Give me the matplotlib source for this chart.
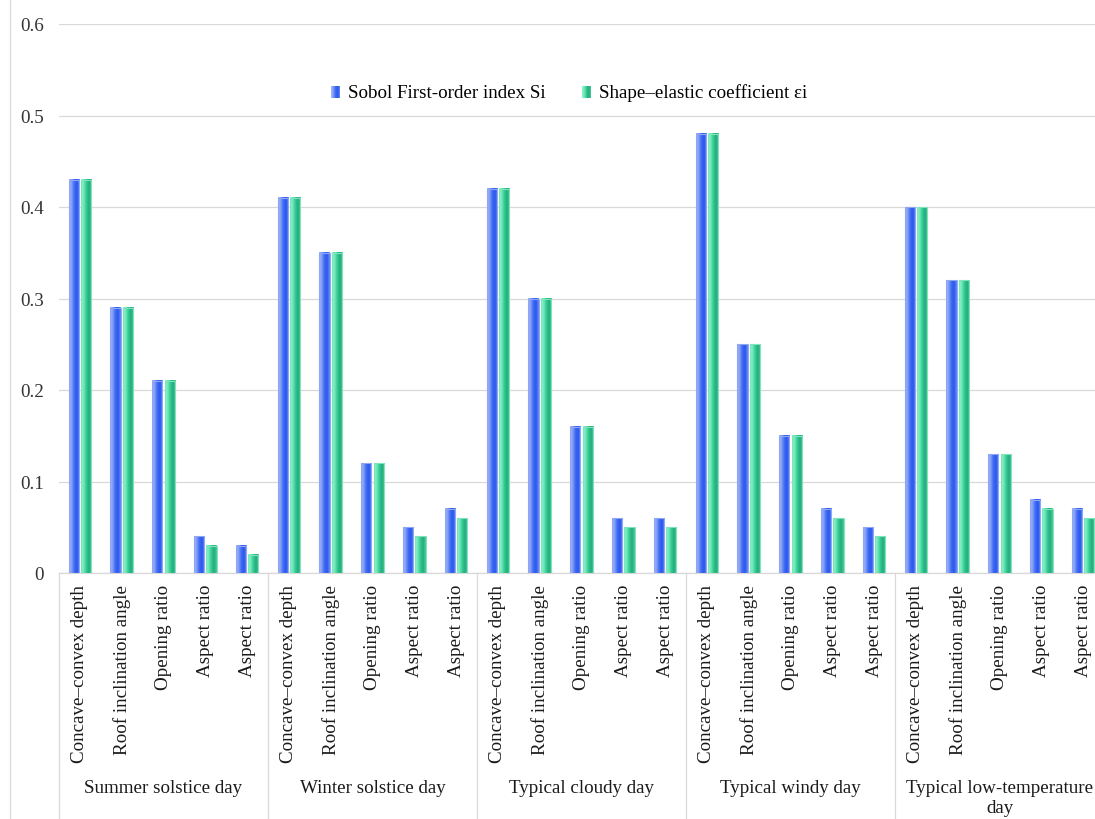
import matplotlib.pyplot as plt
import matplotlib.colors as mcolors
from matplotlib.patches import Rectangle
from matplotlib.lines import Line2D
from matplotlib.legend_handler import HandlerBase
from matplotlib.transforms import blended_transform_factory
import numpy as np

plt.rcParams['font.family'] = ['Liberation Serif', 'DejaVu Serif']

days = ['Summer solstice day', 'Winter solstice day', 'Typical cloudy day',
        'Typical windy day', 'Typical low-temperature\nday']
factors = ['Concave\u2013convex depth', 'Roof inclination angle', 'Opening ratio',
           'Aspect ratio', 'Aspect ratio']

# values per day, factors in the order above
sobol = [[0.43, 0.29, 0.21, 0.04, 0.03],
         [0.41, 0.35, 0.12, 0.05, 0.07],
         [0.42, 0.30, 0.16, 0.06, 0.06],
         [0.48, 0.25, 0.15, 0.07, 0.05],
         [0.40, 0.32, 0.13, 0.08, 0.07]]
elastic = [[0.43, 0.29, 0.21, 0.03, 0.02],
           [0.41, 0.35, 0.12, 0.04, 0.06],
           [0.42, 0.30, 0.16, 0.05, 0.05],
           [0.48, 0.25, 0.15, 0.06, 0.04],
           [0.40, 0.32, 0.13, 0.07, 0.06]]

series_names = ['Sobol First-order index Si', 'Shape\u2013elastic coefficient \u03b5i']

# gradient stops left -> right for each series
blue_stops = ['#a9bcf8', '#7f9cf6', '#3e68f2', '#2a58f0', '#6b8cf3']
green_stops = ['#93f5cf', '#6fe8b8', '#34c892', '#22ad7c', '#52c99c']


def gradient_row(stops, n=40):
    cmap = mcolors.LinearSegmentedColormap.from_list('g', stops)
    return cmap(np.linspace(0, 1, n))[None, :, :]


blue_img = gradient_row(blue_stops)
green_img = gradient_row(green_stops)

fig = plt.figure(figsize=(10.95, 8.2), dpi=100)
W, H = 1095, 820
ax = fig.add_axes([59 / W, 1 - 574 / H, 1045 / W, 549 / H])

ncat = len(days) * len(factors)
bw = 0.24
off = 0.148
fs = 13.7

flat_s = [v for row in sobol for v in row]
flat_e = [v for row in elastic for v in row]

for i in range(ncat):
    xc = i + 0.5
    for val, img, dx, edge in [(flat_s[i], blue_img, -off, '#8fa6f6'),
                               (flat_e[i], green_img, off, '#7fe3bd')]:
        x0 = xc + dx - bw / 2
        ax.imshow(img, extent=[x0, x0 + bw, 0, val], aspect='auto',
                  interpolation='bilinear', zorder=3)
        ax.add_patch(Rectangle((x0, 0), bw, val, fill=False, edgecolor=edge,
                               linewidth=0.8, zorder=4))

ax.set_xlim(0, ncat)
ax.set_ylim(0, 0.6)
ax.set_yticks(np.arange(0, 0.61, 0.1))
ax.set_yticklabels(['0', '0.1', '0.2', '0.3', '0.4', '0.5', '0.6'], fontsize=fs)
ax.yaxis.grid(True, color='#d9d9d9', linewidth=0.9, zorder=0)
ax.set_axisbelow(True)
ax.tick_params(axis='y', length=0, pad=11, colors='#333333')
ax.set_xticks([])
for s in ['top', 'right', 'left']:
    ax.spines[s].set_visible(False)
ax.spines['bottom'].set_color('#d9d9d9')
ax.spines['bottom'].set_linewidth(0.9)

# multi-level category axis
tr = blended_transform_factory(ax.transData, ax.transAxes)
for i in range(ncat):
    ax.text(i + 0.5, -0.02, factors[i % len(factors)], rotation=90, ha='center',
            va='top', fontsize=fs, transform=tr, color='#1a1a1a')
for g, name in enumerate(days):
    gx = g * len(factors)
    ax.add_line(Line2D([gx, gx], [0, -0.5], transform=tr, color='#d9d9d9',
                       linewidth=0.9, clip_on=False))
    ax.text(gx + len(factors) / 2, -0.376, name, ha='center', va='top',
            fontsize=fs, transform=tr, color='#1a1a1a', linespacing=1.2)

# outer chart border on the left
fig.add_artist(Line2D([10 / W, 10 / W], [0, 1], transform=fig.transFigure,
                      color='#d9d9d9', linewidth=0.9))


class GradientHandler(HandlerBase):
    def __init__(self, img):
        super().__init__()
        self.img = img

    def create_artists(self, legend, orig, xd, yd, width, height, fontsize, trans):
        cols = self.img[0]
        n = len(cols)
        arts = []
        for k in range(n):
            arts.append(Rectangle((xd + width * k / n, yd), width / n + 0.05, height,
                                  facecolor=cols[k], edgecolor='none', transform=trans))
        return arts


h1 = Rectangle((0, 0), 1, 1)
h2 = Rectangle((0, 0), 1, 1)
ax.legend([h1, h2], series_names, loc='center', bbox_to_anchor=(0.488, 0.876),
          ncol=2, frameon=False, fontsize=fs, handlelength=0.5, handleheight=0.6,
          handletextpad=0.4, columnspacing=1.9,
          handler_map={h1: GradientHandler(blue_img), h2: GradientHandler(green_img)})

fig.savefig('out.png', dpi=100)
